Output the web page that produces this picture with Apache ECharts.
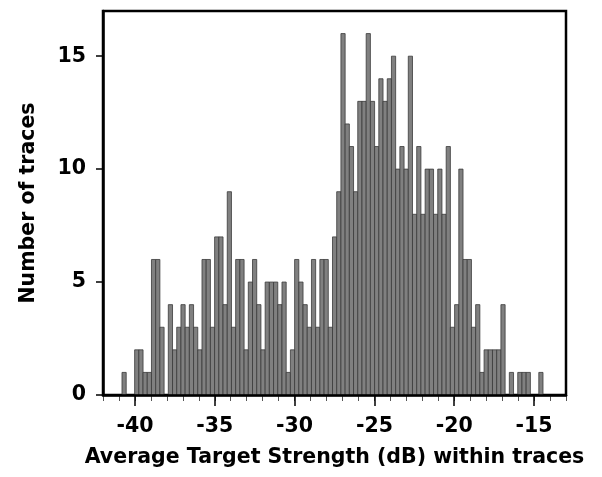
<!DOCTYPE html>
<html><head><meta charset="utf-8">
<script src="https://cdn.jsdelivr.net/npm/echarts@6/dist/echarts.min.js"></script>
<style>html,body{margin:0;padding:0;background:#fff}#c{width:602px;height:477px}</style>
</head><body><div id="c"></div>
<script>
// Histogram counts per bin (left to right)
const counts = [
  1,0,0,2,2,1,1,6,6,3,
  0,4,2,3,4,3,4,3,2,6,
  6,3,7,7,4,9,3,6,6,2,
  5,6,4,2,5,5,5,4,5,1,
  2,6,5,4,3,6,3,6,6,3,
  7,9,16,12,11,9,13,13,16,13,
  11,14,13,14,15,10,11,10,15,8,
  11,8,10,10,8,10,8,11,3,4,
  10,6,6,3,4,1,2,2,2,2,
  4,0,1,0,1,1,1,0,0,1
];
const binStart = -40.81;   // left edge of first bin (dB)
const binWidth = 0.2637;   // bin width (dB)
const xMajorTicks = [-40, -35, -30, -25, -20, -15];
const xMinorTicks = [-42,-41,-40,-39,-38,-37,-36,-35,-34,-33,-32,-31,-30,-29,-28,-27,-26,-25,-24,-23,-22,-21,-20,-19,-18,-17,-16,-15,-14,-13];
const yTicks = [0, 5, 10, 15];
const xTitle = 'Average Target Strength (dB) within traces';
const yTitle = 'Number of traces';

const FONT = '"DejaVu Sans", sans-serif';
const bins = counts.map((c, i) => [binStart + i * binWidth, binStart + (i + 1) * binWidth, c]);

const chart = echarts.init(document.getElementById('c'), null, {renderer: 'canvas'});
chart.setOption({
  animation: false,
  backgroundColor: '#fff',
  grid: {left: 103, right: 36, top: 11, bottom: 82, show: true, borderColor: '#000', borderWidth: 2.5, outerBoundsMode: 'none'},
  xAxis: [{
    type: 'value', min: -42, max: -13, position: 'bottom', z: 10,
    splitLine: {show: false},
    axisLine: {show: true, lineStyle: {color: '#000', width: 2.5}},
    axisTick: {show: true, customValues: xMajorTicks, length: 11, lineStyle: {color: '#000', width: 1.5}},
    axisLabel: {customValues: xMajorTicks, color: '#000', fontFamily: FONT, fontWeight: 'bold', fontSize: 20.5, margin: 21},
    name: xTitle, nameLocation: 'middle', nameGap: 52,
    nameTextStyle: {color: '#000', fontFamily: FONT, fontWeight: 'bold', fontSize: 20.5}
  }, {
    type: 'value', min: -42, max: -13, position: 'bottom', z: 9,
    splitLine: {show: false},
    axisLine: {show: false},
    axisTick: {show: true, customValues: xMinorTicks, length: 6, lineStyle: {color: '#555', width: 1}},
    axisLabel: {show: false}
  }],
  yAxis: {
    type: 'value', min: 0, max: 17, interval: 5, z: 10,
    splitLine: {show: false},
    axisLine: {show: true, lineStyle: {color: '#000', width: 2.5}},
    axisTick: {show: true, customValues: yTicks, length: 7, lineStyle: {color: '#000', width: 1.5}},
    axisLabel: {customValues: yTicks, color: '#000', fontFamily: FONT, fontWeight: 'bold', fontSize: 20.5, margin: 17},
    name: yTitle, nameLocation: 'middle', nameGap: 64,
    nameTextStyle: {color: '#000', fontFamily: FONT, fontWeight: 'bold', fontSize: 20.5}
  },
  series: [{
    type: 'custom',
    xAxisIndex: 0, yAxisIndex: 0, z: 2,
    encode: {x: [0, 1], y: 2},
    data: bins,
    renderItem: function (params, api) {
      const v = api.value(2);
      if (!(v > 0)) return null;
      const p0 = api.coord([api.value(0), 0]);
      const p1 = api.coord([api.value(1), v]);
      return {
        type: 'rect',
        shape: {x: p0[0], y: p1[1], width: p1[0] - p0[0], height: p0[1] - p1[1]},
        style: {fill: '#808080', stroke: '#3a3a3a', lineWidth: 0.8}
      };
    }
  }]
});
</script>
</body></html>
